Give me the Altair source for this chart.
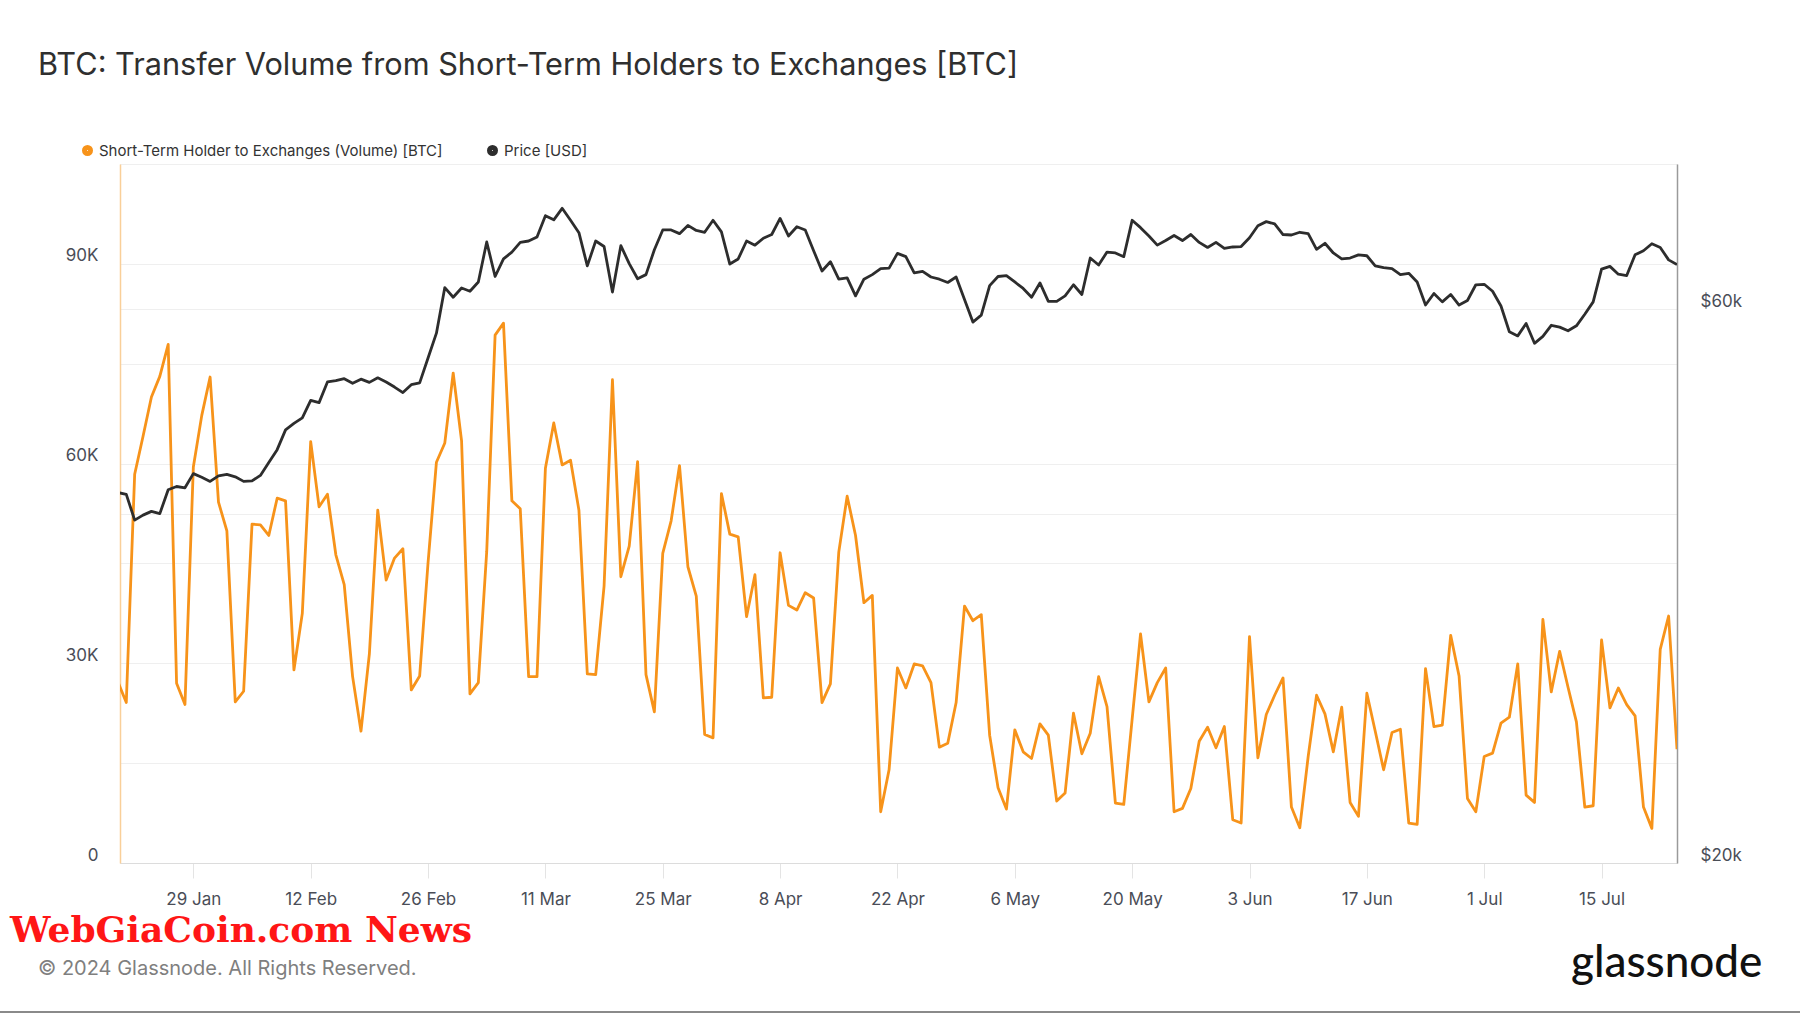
import altair as alt
import pandas as pd

# ---- data ----
start_date = "2024-01-20"
n_days = 187

sth_volume_k = [
    27.2, 24.1, 58.4, 64.1, 70.0, 73.1, 77.9, 27.0, 23.8, 59.5,
    67.2, 73.0, 54.2, 49.9, 24.2, 25.8, 50.9, 50.8, 49.2, 54.8,
    54.4, 29.0, 37.5, 63.3, 53.5, 55.4, 46.3, 41.8, 28.0, 19.8,
    31.4, 53.0, 42.5, 45.8, 47.2, 26.0, 28.1, 45.1, 60.2, 63.1,
    73.6, 63.4, 25.4, 27.1, 46.8, 79.3, 81.1, 54.4, 53.2, 28.0,
    28.0, 59.3, 66.1, 59.8, 60.5, 53.0, 28.4, 28.3, 41.6, 72.6,
    43.0, 47.6, 60.3, 28.3, 22.7, 46.5, 51.4, 59.7, 44.5, 40.1,
    19.3, 18.8, 55.5, 49.4, 49.0, 37.0, 43.3, 24.8, 24.9, 46.6,
    38.7, 38.0, 40.6, 39.8, 24.1, 26.9, 46.7, 55.1, 49.2, 39.1,
    40.2, 7.7, 14.0, 29.3, 26.3, 29.9, 29.6, 27.1, 17.4, 18.0,
    24.1, 38.6, 36.4, 37.3, 19.2, 11.3, 8.1, 20.0, 16.7, 15.7,
    20.9, 19.2, 9.3, 10.5, 22.5, 16.4, 19.5, 28.0, 23.5, 9.0,
    8.8, 21.6, 34.4, 24.2, 27.1, 29.3, 7.7, 8.2, 11.2, 18.3,
    20.4, 17.3, 20.5, 6.5, 6.0, 34.0, 15.8, 22.3, 25.2, 27.8,
    8.4, 5.3, 16.0, 25.2, 22.4, 16.7, 23.4, 9.1, 7.0, 25.5,
    19.8, 14.0, 19.6, 20.1, 6.0, 5.8, 29.2, 20.5, 20.7, 34.2,
    28.1, 9.7, 7.7, 16.0, 16.5, 21.0, 21.9, 29.9, 10.2, 9.1,
    36.6, 25.7, 31.8, 26.4, 21.2, 8.4, 8.6, 33.5, 23.3, 26.3,
    23.8, 22.1, 8.4, 5.2, 32.1, 37.1, 17.1,
]

price_k = [
    41.70, 41.55, 39.48, 39.87, 40.17, 39.99, 41.93, 42.20, 42.09, 43.29,
    42.98, 42.63, 43.10, 43.22, 43.02, 42.63, 42.67, 43.14, 44.25, 45.40,
    47.22, 47.83, 48.36, 50.06, 49.84, 51.92, 52.06, 52.26, 51.78, 52.21,
    51.88, 52.35, 51.92, 51.40, 50.84, 51.64, 51.83, 54.45, 57.20, 62.61,
    61.42, 62.56, 62.16, 63.31, 68.54, 64.00, 66.27, 67.18, 68.48, 68.67,
    69.23, 72.21, 71.61, 73.27, 71.55, 69.81, 65.37, 68.67, 67.92, 62.05,
    68.04, 65.66, 63.72, 64.24, 67.49, 70.19, 70.19, 69.68, 70.83, 70.12,
    69.87, 71.55, 69.93, 65.60, 66.27, 68.67, 68.11, 69.05, 69.56, 71.81,
    69.36, 70.64, 70.19, 67.36, 64.71, 65.91, 63.66, 63.83, 61.59, 63.66,
    64.24, 65.01, 65.07, 67.00, 66.57, 64.47, 64.65, 63.94, 63.66, 63.25,
    63.94, 61.15, 58.47, 59.28, 62.85, 64.00, 64.12, 63.31, 62.50, 61.42,
    63.19, 60.92, 60.92, 61.59, 62.96, 61.76, 66.39, 65.48, 67.18, 67.06,
    66.57, 71.55, 70.51, 69.36, 68.11, 68.73, 69.43, 68.73, 69.56, 68.48,
    67.80, 68.48, 67.67, 67.86, 67.92, 69.11, 70.77, 71.36, 71.03, 69.56,
    69.49, 69.87, 69.68, 67.55, 68.36, 67.06, 66.27, 66.39, 66.81, 66.69,
    65.37, 65.13, 65.01, 64.24, 64.41, 63.31, 60.48, 61.88, 60.86, 61.76,
    60.48, 61.03, 62.96, 63.02, 62.16, 60.37, 57.36, 56.89, 58.31, 56.06,
    56.84, 58.10, 57.89, 57.47, 58.04, 59.38, 60.86, 64.95, 65.30, 64.30,
    64.12, 66.81, 67.36, 68.30, 67.80, 66.15, 65.54,
]

series_names = ["Short-Term Holder to Exchanges (Volume) [BTC]", "Price [USD]"]
series_colors = ["#f7931a", "#2d2d2d"]

x_tick_dates = [(1, 29), (2, 12), (2, 26), (3, 11), (3, 25), (4, 8), (4, 22),
                (5, 6), (5, 20), (6, 3), (6, 17), (7, 1), (7, 15)]
left_grid_values = [0, 15000, 30000, 45000, 60000, 75000, 90000, 105000]
right_grid_values = [20000, 40000, 60000, 80000]

title_text = "BTC: Transfer Volume from Short-Term Holders to Exchanges [BTC]"
footer_text = "\u00a9 2024 Glassnode. All Rights Reserved."
watermark_text = "WebGiaCoin.com News"
logo_text = "glassnode"

# ---- build tables ----
dates = pd.date_range(start_date, periods=n_days, freq="D").strftime("%Y-%m-%dT%H:%M:%S")
vol_df = pd.DataFrame({
    "date": dates,
    "value": [v * 1000 for v in sth_volume_k],
    "series": series_names[0],
})
price_df = pd.DataFrame({
    "date": dates,
    "value": [p * 1000 for p in price_k],
    "series": series_names[1],
})

FONT = "Inter"
LABEL_COLOR = "#4a4d57"
GRID_COLOR = "#efefef"

x_enc = alt.X(
    "date:T",
    scale=alt.Scale(
        domain=[alt.DateTime(year=2024, month=1, date=20, hours=6),
                alt.DateTime(year=2024, month=7, date=24)],
        nice=False,
    ),
    axis=alt.Axis(
        title=None,
        values=[alt.DateTime(year=2024, month=m, date=d) for m, d in x_tick_dates],
        format="%-d %b",
        grid=False,
        ticks=True,
        tickSize=15,
        tickColor="#e4e4e4",
        labelPadding=13,
        labelFlush=False,
        labelFont=FONT,
        labelFontSize=17,
        labelColor=LABEL_COLOR,
        domainColor="#dcdcdc",
    ),
)

color_enc = alt.Color(
    "series:N",
    scale=alt.Scale(domain=series_names, range=series_colors),
    legend=alt.Legend(
        title=None,
        orient="none",
        legendX=-40,
        legendY=-21,
        direction="horizontal",
        symbolType="circle",
        symbolSize=36,
        symbolStrokeWidth=5,
        labelFont=FONT,
        labelFontSize=15,
        labelColor="#333333",
        labelOffset=4,
        labelLimit=0,
        columnPadding=36,
        gridAlign="none",
        padding=0,
    ),
)

volume_line = alt.Chart(vol_df).mark_line(strokeWidth=2.8, clip=True, strokeJoin="round").encode(
    x=x_enc,
    y=alt.Y(
        "value:Q",
        scale=alt.Scale(domain=[0, 105000], nice=False, zero=True),
        axis=alt.Axis(
            title=None,
            orient="left",
            values=left_grid_values,
            labelExpr="datum.value % 30000 === 0 ? (datum.value === 0 ? '0' : format(datum.value / 1000, 'd') + 'K') : ''",
            grid=True,
            gridColor=GRID_COLOR,
            ticks=False,
            tickSize=0,
            labelPadding=22,
            labelBaseline="bottom",
            labelOffset=1,
            labelFont=FONT,
            labelFontSize=17,
            labelColor=LABEL_COLOR,
            domainColor="#f9cf99",
            domainWidth=1.5,
        ),
    ),
    color=color_enc,
)

price_line = alt.Chart(price_df).mark_line(strokeWidth=2.8, clip=True, strokeJoin="round").encode(
    x=x_enc,
    y=alt.Y(
        "value:Q",
        scale=alt.Scale(type="log", domain=[20000, 80000], nice=False),
        axis=alt.Axis(
            title=None,
            orient="right",
            values=right_grid_values,
            labelExpr="datum.value === 20000 ? '$20k' : (datum.value === 60000 ? '$60k' : '')",
            grid=True,
            gridColor=GRID_COLOR,
            ticks=False,
            tickSize=0,
            labelPadding=23,
            labelBaseline="bottom",
            labelOffset=1,
            labelFont=FONT,
            labelFontSize=17,
            labelColor=LABEL_COLOR,
            domainColor="#9a9a9a",
            domainWidth=1.5,
        ),
    ),
    color=color_enc,
)

one_row = pd.DataFrame({"k": [0]})

title_mark = alt.Chart(one_row).mark_text(
    align="left", baseline="alphabetic", font=FONT, fontSize=30.7, fontWeight=400, color="#2f2f2f"
).encode(x=alt.value(-82), y=alt.value(-89), text=alt.value(title_text))

watermark_mark = alt.Chart(one_row).mark_text(
    align="left", baseline="alphabetic", font="DejaVu Serif", fontSize=36,
    fontWeight="bold", color="#ff1616"
).encode(x=alt.value(-110), y=alt.value(778), text=alt.value(watermark_text))

footer_mark = alt.Chart(one_row).mark_text(
    align="left", baseline="alphabetic", font=FONT, fontSize=20, color="#7f7f7f"
).encode(x=alt.value(-82), y=alt.value(811), text=alt.value(footer_text))

logo_mark = alt.Chart(one_row).mark_text(
    align="left", baseline="alphabetic", font="Lato", fontSize=44, fontWeight=500, color="#111111"
).encode(x=alt.value(1451), y=alt.value(813), text=alt.value(logo_text))

bottom_rule = alt.Chart(one_row).mark_rule(color="#8a8a8a", strokeWidth=2).encode(
    x=alt.value(-120), x2=alt.value(1680), y=alt.value(848)
)

chart = alt.layer(
    volume_line, price_line, title_mark, watermark_mark, footer_mark, logo_mark, bottom_rule
).resolve_scale(y="independent").properties(
    width=1557,
    height=699,
    autosize=alt.AutoSizeParams(type="none"),
    padding={"left": 120, "top": 164, "right": 123, "bottom": 150},
    background="white",
).configure_view(stroke="#e6e6e6", strokeWidth=1)

chart.save("out.html", embed_options={"renderer": "svg", "actions": False})
